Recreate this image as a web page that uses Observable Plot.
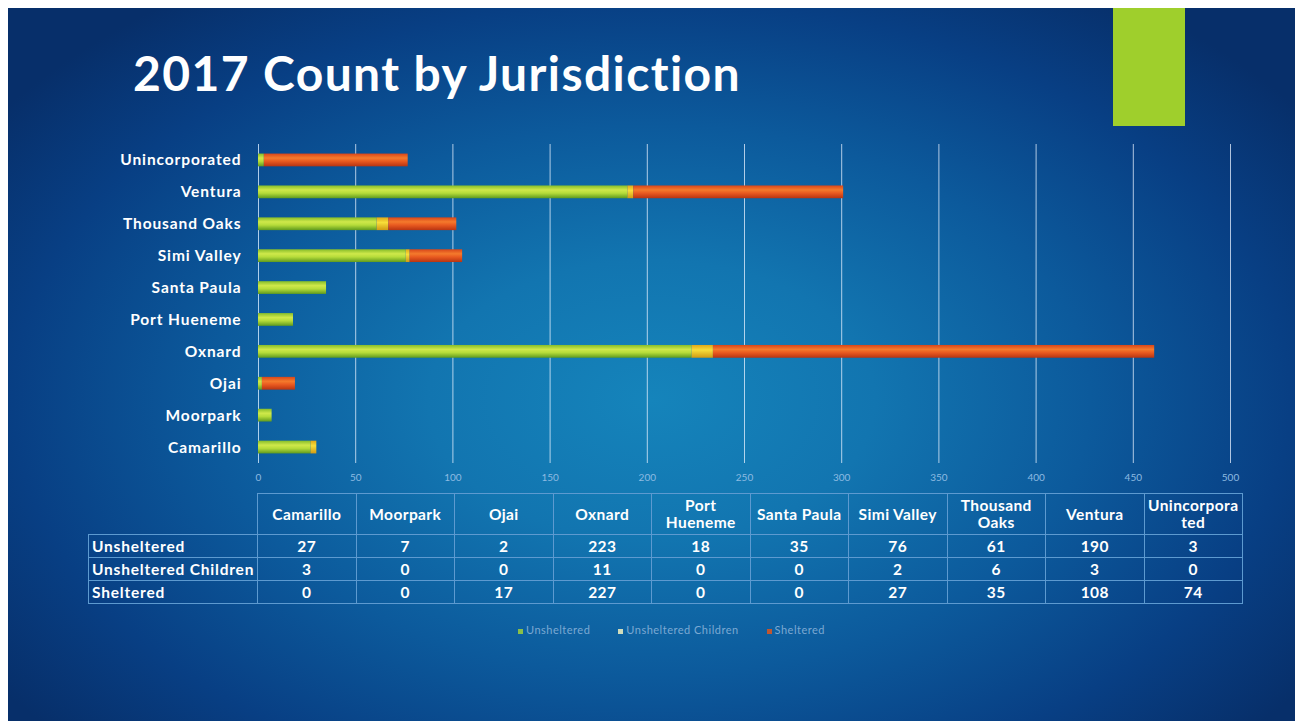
<!DOCTYPE html>
<html>
<head>
<meta charset="utf-8">
<script src="https://cdn.jsdelivr.net/npm/d3@7"></script>
<script src="https://cdn.jsdelivr.net/npm/@observablehq/plot@0.6"></script>
<style>
  html, body { margin: 0; padding: 0; background: #ffffff; width: 1295px; height: 723px; overflow: hidden; }
  #slide {
    position: absolute; left: 8px; top: 8px; width: 1287px; height: 713px; overflow: hidden;
    background: radial-gradient(ellipse 62% 70% at 50% 55%, #1584bb 0%, #1275b0 28%, #0c5a9c 55%, #083f84 80%, #072f6a 100%);
    font-family: Lato, "Open Sans", sans-serif;
  }
  #accent { position: absolute; left: 1105px; top: 0px; width: 72px; height: 118px; background: #9fcf2c; }
  #title { position: absolute; left: 125px; top: 36px; color: #fff; font-size: 48px; font-weight: 700; letter-spacing: 1.4px; white-space: nowrap; }
  #chart { position: absolute; left: -8px; top: 132px; }
  #chart g[aria-label="y-axis tick label"] text { letter-spacing: 0.9px; }
  #tbl { position: absolute; left: 80px; top: 485px; border-collapse: collapse; table-layout: fixed; }
  #tbl td { border: 1.5px solid #5d9ad0; color: #fff; font-weight: 700; font-size: 15.5px; letter-spacing: 0.4px; text-align: center; padding: 0; height: 22px; line-height: 18px; white-space: nowrap; }
  #tbl tr.head td { height: 40px; line-height: 17px; }
  #tbl td.lab { text-align: left; padding-left: 3px; letter-spacing: 0.8px; }
  #tbl td.blank { border-top-color: transparent; border-left-color: transparent; }
  #legend { position: absolute; left: 20px; width: 1287px; top: 615px; text-align: center; font-size: 11px; letter-spacing: 0.5px; color: #8fb6dc; opacity: 0.85; }
  #legend span { margin: 0 14px; }
  #legend i { display: inline-block; width: 5px; height: 5px; margin-right: 3px; vertical-align: middle; }
</style>
</head>
<body>
<div id="slide">
  <div id="accent"></div>
  <div id="title">2017 Count by Jurisdiction</div>
  <div id="chart"></div>
  <table id="tbl"></table>
  <div id="legend"></div>
</div>
<script>
// ---- data ----
const jurisdictions = ["Camarillo", "Moorpark", "Ojai", "Oxnard", "Port Hueneme", "Santa Paula", "Simi Valley", "Thousand Oaks", "Ventura", "Unincorporated"];
const tableHeaders = ["Camarillo", "Moorpark", "Ojai", "Oxnard", "Port<br>Hueneme", "Santa Paula", "Simi Valley", "Thousand<br>Oaks", "Ventura", "Unincorpora<br>ted"];
const seriesNames = ["Unsheltered", "Unsheltered Children", "Sheltered"];
const unsheltered = [27, 7, 2, 223, 18, 35, 76, 61, 190, 3];
const unshelteredChildren = [3, 0, 0, 11, 0, 0, 2, 6, 3, 0];
const sheltered = [0, 0, 17, 227, 0, 0, 27, 35, 108, 74];
const xTicks = [0, 50, 100, 150, 200, 250, 300, 350, 400, 450, 500];

const seriesValues = [unsheltered, unshelteredChildren, sheltered];
const rows = [];
seriesNames.forEach((s, si) => jurisdictions.forEach((j, ji) => rows.push({jurisdiction: j, series: s, value: seriesValues[si][ji]})));

const chart = Plot.plot({
  width: 1295,
  height: 352,
  marginLeft: 258,
  marginRight: 65,
  marginTop: 4,
  marginBottom: 29,
  style: {background: "transparent", overflow: "visible"},
  x: {domain: [0, 500], ticks: xTicks, label: null},
  y: {domain: jurisdictions.slice().reverse(), paddingInner: 0.6, paddingOuter: 0.3, round: false, label: null},
  color: {domain: seriesNames, range: ["url(#gGreen)", "url(#gYellow)", "url(#gOrange)"]},
  marks: [
    Plot.gridX(xTicks.slice(1), {stroke: "#e8f2ff", strokeOpacity: 0.75, strokeWidth: 1}),
    Plot.ruleX([0], {stroke: "#d8ecff", strokeOpacity: 0.8}),
    Plot.axisX({ticks: xTicks, tickSize: 0, tickPadding: 10, fontSize: 10, fill: "#8dbbe2", fontFamily: "Lato, sans-serif", label: null}),
    Plot.axisY({tickSize: 0, tickPadding: 17, fontSize: 15.5, fontWeight: 700, fill: "#ffffff", fontFamily: "Lato, sans-serif", label: null}),
    Plot.barX(rows, Plot.stackX({y: "jurisdiction", x: "value", fill: "series", order: null}))
  ]
});

// gradient defs for glossy bars
const ns = "http://www.w3.org/2000/svg";
const defs = document.createElementNS(ns, "defs");
function grad(id, stops) {
  const g = document.createElementNS(ns, "linearGradient");
  g.setAttribute("id", id); g.setAttribute("x1", "0"); g.setAttribute("y1", "0"); g.setAttribute("x2", "0"); g.setAttribute("y2", "1");
  stops.forEach(([o, c]) => { const s = document.createElementNS(ns, "stop"); s.setAttribute("offset", o); s.setAttribute("stop-color", c); g.appendChild(s); });
  defs.appendChild(g);
}
grad("gGreen", [["0", "#86bd2a"], ["0.35", "#cfe84a"], ["0.6", "#b6dc3a"], ["1", "#5f9a1e"]]);
grad("gYellow", [["0", "#e0a818"], ["0.4", "#f8de3a"], ["1", "#d09a14"]]);
grad("gOrange", [["0", "#d8461a"], ["0.35", "#f47a2c"], ["0.6", "#e95a20"], ["1", "#b83412"]]);
chart.insertBefore(defs, chart.firstChild);
document.getElementById("chart").appendChild(chart);

// table
const tbl = document.getElementById("tbl");
const colW = [169].concat(jurisdictions.map(() => 98.5));
const cg = document.createElement("colgroup");
colW.forEach(w => { const c = document.createElement("col"); c.style.width = w + "px"; cg.appendChild(c); });
tbl.appendChild(cg);
let html = '<tr class="head"><td class="blank"></td>' + tableHeaders.map(h => `<td>${h}</td>`).join("") + "</tr>";
seriesNames.forEach((s, si) => {
  html += `<tr><td class="lab">${s}</td>` + seriesValues[si].map(v => `<td>${v}</td>`).join("") + "</tr>";
});
tbl.insertAdjacentHTML("beforeend", html);

// legend
const legendColors = ["#9fd03a", "#f2f2c0", "#e0561e"];
document.getElementById("legend").innerHTML = seriesNames.map((s, i) => `<span><i style="background:${legendColors[i]}"></i>${s}</span>`).join("");
</script>
</body>
</html>
